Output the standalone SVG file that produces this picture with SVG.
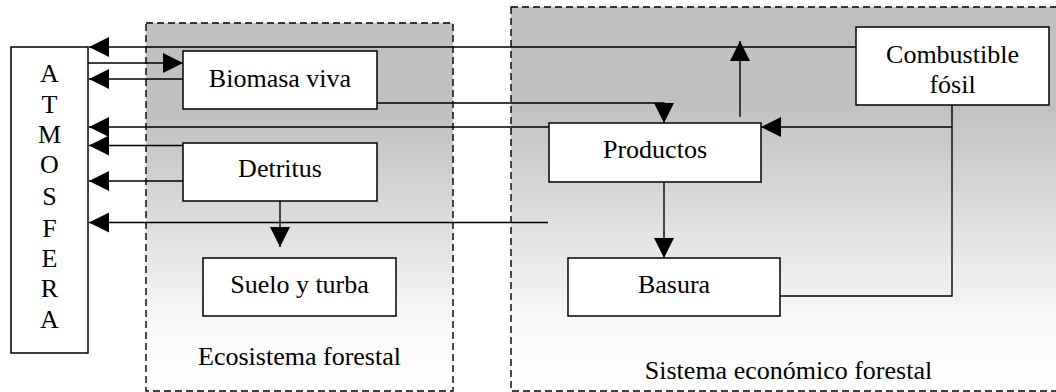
<svg xmlns="http://www.w3.org/2000/svg" width="1056" height="392" viewBox="0 0 1056 392">
<defs>
<linearGradient id="bg" x1="0" y1="0" x2="0" y2="1">
<stop offset="0" stop-color="#c0c0c0"/>
<stop offset="0.25" stop-color="#c0c0c0"/>
<stop offset="0.8" stop-color="#f7f7f7"/>
<stop offset="1" stop-color="#ffffff"/>
</linearGradient>
<marker id="ah" viewBox="0 0 20 20" refX="20" refY="10" markerWidth="20" markerHeight="20" markerUnits="userSpaceOnUse" orient="auto">
<path d="M0,0 L20,10 L0,20 Z" fill="#000"/>
</marker>
</defs>
<style>
.region{stroke:#000;stroke-width:1.4;stroke-dasharray:7 4;fill:url(#bg)}
.box{fill:#fff;stroke:#000;stroke-width:1.5}
.t{font-family:"Liberation Serif","Times New Roman",serif;font-size:26px;fill:#000;text-anchor:middle}
.c{fill:none;stroke:#000;stroke-width:1.4}
.a{fill:none;stroke:#000;stroke-width:1.4;marker-end:url(#ah)}
</style>
<rect width="1056" height="392" fill="#fff"/>
<g id="ecosistema">
<rect class="region" x="146" y="23" width="307" height="368"/>
<text class="t" x="299.5" y="365">Ecosistema forestal</text>
</g>
<g id="sistema-economico">
<rect class="region" x="511" y="7" width="560" height="384"/>
<text class="t" x="788.5" y="379">Sistema económico forestal</text>
</g>
<g id="connectors">
<path class="a" d="M856,47 H89"/>
<path class="a" d="M88,63 H183"/>
<path class="a" d="M183,79 H89"/>
<path class="a" d="M549,127 H89"/>
<path class="a" d="M183,145.5 H89"/>
<path class="a" d="M183,181 H89"/>
<path class="a" d="M548,222.5 H89"/>
<path class="a" d="M377,103 H664 V123"/>
<path class="a" d="M280,201 V247"/>
<path class="a" d="M664,182 V258"/>
<path class="a" d="M740,117 V41"/>
<path class="c" d="M952,105 V296 H780"/>
<path class="a" d="M952,127 H761"/>
</g>
<g id="atmosfera">
<rect class="box" x="11" y="47" width="77" height="306"/>
<text class="t" x="49.5" y="82">A</text>
<text class="t" x="49.5" y="113">T</text>
<text class="t" x="49.5" y="143">M</text>
<text class="t" x="49.5" y="173">O</text>
<text class="t" x="49.5" y="205">S</text>
<text class="t" x="49.5" y="237">F</text>
<text class="t" x="49.5" y="267">E</text>
<text class="t" x="49.5" y="297">R</text>
<text class="t" x="49.5" y="328">A</text>
</g>
<g id="biomasa-viva">
<rect class="box" x="183" y="51" width="194" height="58"/>
<text class="t" x="280" y="87">Biomasa viva</text>
</g>
<g id="detritus">
<rect class="box" x="183" y="143" width="194" height="58"/>
<text class="t" x="280" y="177">Detritus</text>
</g>
<g id="suelo-turba">
<rect class="box" x="203" y="258" width="193" height="58"/>
<text class="t" x="299.5" y="293">Suelo y turba</text>
</g>
<g id="productos">
<rect class="box" x="549" y="123" width="212" height="59"/>
<text class="t" x="655" y="158">Productos</text>
</g>
<g id="basura">
<rect class="box" x="568" y="258" width="212" height="58"/>
<text class="t" x="674" y="293">Basura</text>
</g>
<g id="combustible-fosil">
<rect class="box" x="856" y="27" width="193" height="78"/>
<text class="t" x="952.5" y="63">Combustible</text>
<text class="t" x="952.5" y="93">fósil</text>
</g>
</svg>
